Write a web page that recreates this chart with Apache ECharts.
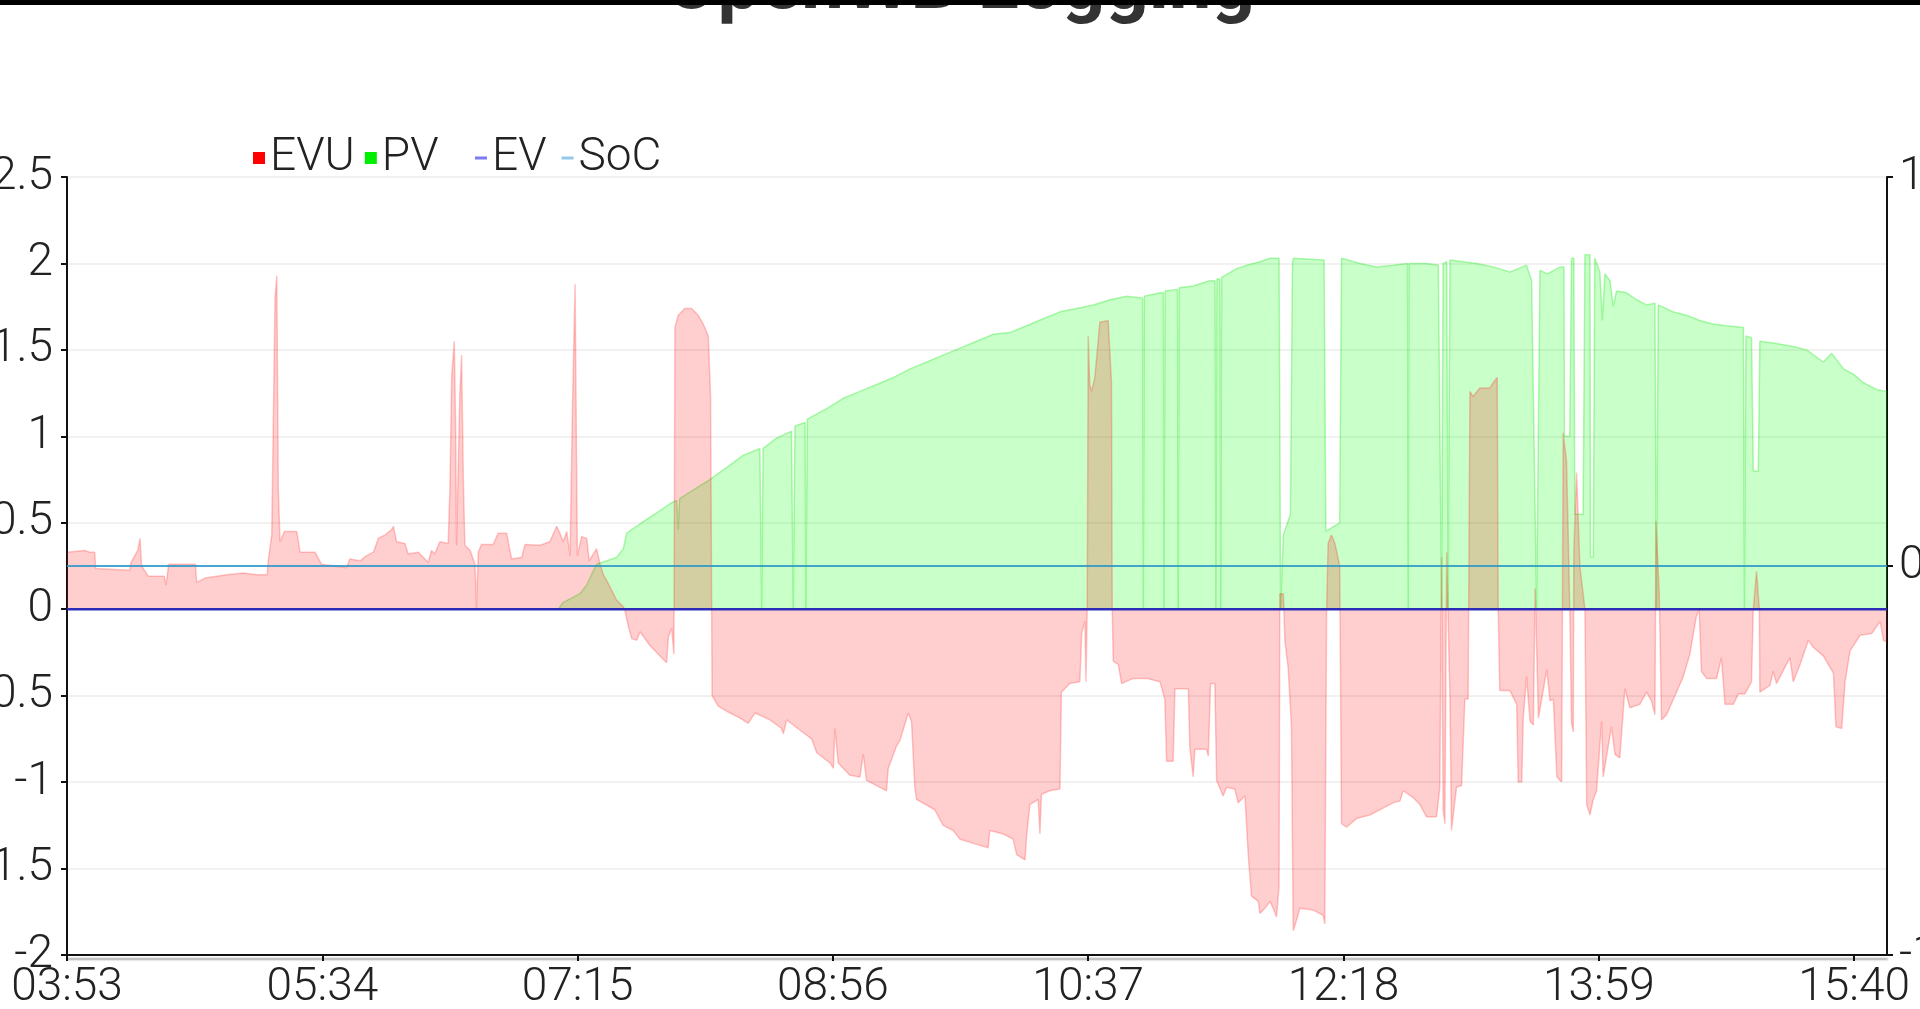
<!DOCTYPE html>
<html><head><meta charset="utf-8">
<script src="https://cdn.jsdelivr.net/npm/echarts/dist/echarts.min.js"></script>
<style>html,body{margin:0;padding:0;background:#fff;overflow:hidden}#c{width:1920px;height:1009px}#bar{position:absolute;left:0;top:0;width:1920px;height:5px;background:#000;z-index:10}</style>
</head><body><div id="c"></div><div id="bar"></div>
<script>
const timeLabels = ['03:53','05:34','07:15','08:56','10:37','12:18','13:59','15:40'];
const tickStep = 101; // minutes between labels
const rangeMinutes = 720;
const seriesNames = ['EVU','PV','EV','SoC'];
// [minutes after 03:53, kW]
const evuData = [[0,0.33],[7,0.34],[9,0.33],[11,0.33],[11.3,0.235],[12,0.226],[24.9,0.226],[25.3,0.27],[28,0.34],[28.9,0.41],[29.5,0.25],[32.2,0.19],[38.5,0.19],[39.2,0.14],[40.2,0.26],[50.8,0.26],[51.3,0.155],[54.6,0.18],[63.2,0.2],[69.8,0.21],[75,0.2],[79.2,0.2],[79.6,0.28],[81,0.43],[82.3,1.8],[83,1.93],[83.6,0.69],[84.3,0.39],[86,0.45],[90.9,0.45],[92.2,0.33],[98.1,0.33],[100.7,0.26],[110.6,0.24],[111.9,0.29],[116,0.28],[118.5,0.31],[121.2,0.33],[123.2,0.41],[125.8,0.43],[128.4,0.46],[129.1,0.48],[130.4,0.39],[133.7,0.38],[135,0.32],[139,0.33],[140.3,0.31],[142.9,0.27],[144.2,0.34],[145.5,0.32],[147.5,0.39],[150.8,0.38],[151.5,0.7],[152.2,1.35],[153.2,1.55],[153.8,1.0],[154.1,0.37],[155.4,1.24],[156.1,1.47],[156.8,0.74],[157.4,0.37],[159.5,0.34],[161.4,0.26],[162,0],[162.7,0.33],[164,0.375],[168.6,0.375],[170.6,0.44],[173.9,0.44],[175.9,0.29],[179.9,0.3],[181.2,0.375],[187.1,0.37],[191,0.39],[193.7,0.48],[195,0.44],[196.3,0.39],[197.7,0.45],[199,0.31],[200,1.19],[201,1.88],[201.9,0.31],[203.6,0.42],[205.6,0.41],[206.6,0.28],[209.5,0.35],[210.9,0.26],[212.2,0.2],[214.1,0.15],[217.4,0.054],[220.1,0.014],[220.7,-0.006],[222.1,-0.1],[223.4,-0.17],[225.4,-0.18],[226.7,-0.13],[230.6,-0.21],[234.6,-0.27],[237.2,-0.31],[237.9,-0.16],[239.2,-0.11],[240.1,-0.26],[240.5,1.63],[241.8,1.7],[244.5,1.74],[247.1,1.74],[249.7,1.7],[251.7,1.65],[253.7,1.58],[254.6,1.23],[255.2,-0.5],[257.6,-0.56],[261,-0.59],[266.3,-0.63],[269.5,-0.66],[272.2,-0.6],[278.1,-0.64],[282.7,-0.69],[283.4,-0.72],[284.7,-0.64],[290,-0.7],[294.6,-0.75],[296.6,-0.83],[301.9,-0.89],[303.2,-0.92],[303.8,-0.69],[305.1,-0.89],[309.7,-0.96],[313.7,-0.97],[315,-0.84],[316.3,-0.99],[321.6,-1.03],[324.2,-1.05],[324.9,-0.92],[328.2,-0.79],[329.5,-0.76],[332.8,-0.6],[334.1,-0.65],[335.4,-1.03],[336.1,-1.1],[343.3,-1.16],[346.6,-1.25],[350.6,-1.28],[353.3,-1.33],[359.8,-1.36],[364.4,-1.38],[365.1,-1.28],[370.4,-1.3],[374.3,-1.33],[375.7,-1.42],[379,-1.45],[379.6,-1.32],[380.9,-1.13],[384.2,-1.1],[384.9,-1.3],[385.5,-1.07],[388.8,-1.05],[392.8,-1.04],[393.4,-0.48],[396.7,-0.43],[400.7,-0.42],[401.4,-0.14],[402.7,-0.07],[403.1,-0.42],[403.6,0],[404,1.58],[404.6,1.3],[405.3,1.26],[406.6,1.34],[408.6,1.66],[411.9,1.67],[413.2,1.31],[413.5,0],[413.9,-0.3],[415.9,-0.32],[417.2,-0.43],[421.8,-0.4],[427.1,-0.4],[432.4,-0.42],[434.3,-0.52],[435,-0.88],[437.6,-0.88],[438.3,-0.46],[443.6,-0.46],[444.2,-0.8],[445.5,-0.97],[446.2,-0.81],[450.8,-0.81],[451.5,-0.85],[452.4,-0.43],[454.1,-0.43],[454.8,-0.99],[457.4,-1.08],[458.7,-1.03],[462,-1.04],[463.3,-1.12],[466,-1.08],[467.3,-1.42],[468.6,-1.66],[471.3,-1.69],[471.9,-1.76],[473.9,-1.73],[475.9,-1.69],[477.2,-1.73],[478.5,-1.78],[479.5,-1.6],[479.8,0.09],[481.2,0.09],[481.8,-0.18],[483.1,-0.34],[484.4,-0.68],[485.1,-1.86],[486.4,-1.8],[487.7,-1.73],[493,-1.74],[496.9,-1.77],[497.6,-1.82],[498.3,0],[498.9,0.38],[500.2,0.43],[501.6,0.38],[503.5,0.25],[504.2,-1.24],[506.2,-1.26],[510.2,-1.21],[515.4,-1.19],[520.7,-1.15],[524.6,-1.12],[527.3,-1.11],[528.6,-1.05],[532.6,-1.09],[535.2,-1.13],[537.8,-1.2],[541.8,-1.2],[543.1,-1.03],[543.8,0.3],[544.4,-1.16],[545.1,-1.24],[545.8,0.33],[547.1,-0.52],[547.7,-1.28],[549.7,-1.03],[551.7,-1.02],[553,-0.52],[554.3,-0.52],[555,1.26],[556.3,1.23],[558.9,1.28],[562.9,1.28],[564.2,1.31],[565.8,1.34],[566.2,0],[566.8,-0.47],[570.8,-0.47],[573.5,-0.55],[574.1,-1.0],[575.5,-1.0],[576.1,-0.63],[577.4,-0.39],[578.8,-0.65],[580.1,-0.67],[580.8,0.12],[582.1,-0.63],[585.4,-0.35],[586.7,-0.53],[588,-0.52],[589.4,-0.97],[591.3,-1.0],[591.9,1.02],[593.2,0.86],[593.9,0.43],[594.5,0],[595.2,-0.66],[595.9,-0.71],[596.1,0.33],[597.2,0.79],[597.8,0.54],[598.5,0.25],[600.5,0],[601.2,-1.13],[602.5,-1.19],[603.8,-1.1],[605.1,-1.05],[607.1,-0.65],[607.7,-0.97],[611,-0.68],[612.4,-0.84],[614.3,-0.86],[616.3,-0.46],[618.3,-0.57],[622.2,-0.55],[624.9,-0.48],[626.8,-0.53],[628.2,-0.61],[628.6,0.51],[629.9,0.1],[630.8,-0.64],[632.8,-0.61],[636.7,-0.48],[639.4,-0.39],[642,-0.26],[644.6,-0.04],[645.7,0],[646.6,-0.36],[648.6,-0.4],[652.6,-0.4],[654.5,-0.28],[655.9,-0.55],[659.2,-0.55],[661.2,-0.49],[663.8,-0.49],[666.4,-0.42],[667.1,0],[668.4,0.22],[669.5,0],[669.7,-0.48],[673.7,-0.44],[675,-0.36],[676.3,-0.43],[681.6,-0.28],[682.9,-0.42],[685.6,-0.32],[688.9,-0.18],[690.8,-0.22],[694.8,-0.27],[698.8,-0.37],[699.8,-0.68],[702.1,-0.69],[703.4,-0.42],[705.4,-0.24],[709.4,-0.15],[714,-0.14],[717.3,-0.07],[718.6,-0.18],[720,-0.19]];
const pvData = [[0,0],[194.3,0],[196.3,0.04],[199,0.06],[202.9,0.09],[205.6,0.14],[207.5,0.2],[209.5,0.26],[213.5,0.28],[217.4,0.3],[220.1,0.35],[221.4,0.44],[225.4,0.48],[229.3,0.52],[234.6,0.57],[238.5,0.61],[241.2,0.63],[241.8,0.46],[242.4,0.64],[247.8,0.69],[254.3,0.75],[261,0.82],[267.5,0.89],[274.1,0.93],[274.8,0],[275.4,0.93],[280.7,0.99],[286.6,1.03],[287.3,0],[288,1.06],[292,1.08],[292.3,0],[292.9,1.1],[300.5,1.16],[307.1,1.22],[313.7,1.26],[320.3,1.3],[326.9,1.34],[333.5,1.39],[340.1,1.43],[346.6,1.47],[353.3,1.51],[359.8,1.55],[366.4,1.59],[373,1.6],[379.6,1.64],[386.2,1.68],[392.8,1.72],[399.4,1.74],[406,1.76],[412.6,1.79],[419.2,1.81],[425.5,1.8],[425.8,0],[426.2,1.81],[432.4,1.83],[433.7,1.83],[434,0],[434.4,1.84],[439.3,1.85],[439.6,0],[440,1.86],[445.5,1.87],[452.1,1.9],[454.2,1.9],[454.5,0],[454.9,1.91],[456.1,1.91],[456.4,0],[456.8,1.92],[462.7,1.97],[466.7,1.99],[471.9,2.01],[475.9,2.03],[479.5,2.03],[480.1,0],[481.2,0.43],[484,0.55],[484.8,2.0],[485.1,2.03],[497.3,2.02],[498,0.45],[503.5,0.5],[504.2,2.03],[511.5,2.0],[518.1,1.98],[524.6,1.99],[530.3,2.0],[530.6,0],[530.9,2.0],[537.8,2.0],[542.5,1.99],[543.8,0],[544.4,2.0],[545.8,2.01],[546.4,0],[547.1,2.02],[557.6,2.0],[564.2,1.98],[570.8,1.95],[577.4,1.99],[579.4,1.9],[581.4,0],[582.7,1.96],[585.7,1.94],[590.7,1.98],[592.2,1.98],[592.4,1.0],[594.5,1.0],[595.2,2.03],[596.1,2.03],[596.5,0.55],[599.8,0.55],[600.5,2.05],[602.5,2.05],[602.7,0.3],[603.8,0.3],[604.4,2.03],[606.4,1.95],[607.4,1.67],[608.4,1.94],[610.4,1.9],[611.7,1.75],[613,1.84],[617,1.83],[620.9,1.79],[624.9,1.76],[628.2,1.77],[628.8,0],[629.5,1.76],[635.4,1.72],[640.7,1.7],[645.9,1.67],[651.2,1.65],[656.5,1.64],[663.2,1.63],[663.6,0],[664.2,1.58],[666.4,1.57],[667.1,0.8],[669.1,0.8],[669.7,1.55],[675,1.54],[682.9,1.52],[688.2,1.5],[694.8,1.43],[698.1,1.48],[702.8,1.39],[706.7,1.36],[710.7,1.31],[716,1.27],[720,1.26]];
const evData = [[0,0],[720,0]];
const socData = [[0,0],[720,0]];

const FONT = 'Roboto';
const labelStyle = {fontFamily: FONT, fontWeight: 300, fontSize: 46, color: '#222'};
const chart = echarts.init(document.getElementById('c'), null, {renderer: 'canvas'});
chart.setOption({
  animation: false,
  backgroundColor: '#fff',
  title: {text: 'OpenWB Logging', left: 'center', top: -54,
    textStyle: {fontFamily: FONT, fontWeight: 'bold', fontSize: 76, color: '#333'}},
  legend: [
    {left: 253, top: 135, padding: 0, itemGap: 10, itemWidth: 12, itemHeight: 12, itemTextGap: 6,
     textStyle: labelStyle, selectedMode: false,
     data: [{name: seriesNames[0], icon: 'rect', itemStyle: {color: '#ff0000'}},
            {name: seriesNames[1], icon: 'rect', itemStyle: {color: '#00ee00'}}]},
    {left: 475, top: 135, padding: 0, itemGap: 15, itemWidth: 12, itemHeight: 12, itemTextGap: 6,
     textStyle: labelStyle, selectedMode: false,
     data: [{name: seriesNames[2], icon: 'path://M0,0H12V3H0Z', itemStyle: {color: '#7b7bf2'}},
            {name: seriesNames[3], icon: 'path://M0,0H12V3H0Z', itemStyle: {color: '#94c8ea'}}]}
  ],
  grid: {left: 67, right: 33, top: 177, bottom: 54, containLabel: false, outerBoundsMode: 'none'},
  xAxis: {type: 'value', min: 0, max: rangeMinutes, interval: tickStep,
    axisLine: {show: true, onZero: false, lineStyle: {color: '#111', width: 2, shadowColor: 'rgba(0,0,0,0.35)', shadowBlur: 2, shadowOffsetY: 4}},
    axisTick: {show: true, length: 6, lineStyle: {color: '#111', width: 2}},
    axisLabel: Object.assign({margin: 10, formatter: v => timeLabels[Math.round(v / tickStep)] || ''}, labelStyle),
    splitLine: {show: false}},
  yAxis: [
    {type: 'value', min: -2, max: 2.5, interval: 0.5,
     axisLine: {show: true, onZero: false, lineStyle: {color: '#111', width: 2}},
     axisTick: {show: true, length: 6, lineStyle: {color: '#111', width: 2}},
     axisLabel: Object.assign({margin: 14}, labelStyle),
     splitLine: {show: true, lineStyle: {color: '#ececec', width: 1.5}}},
    {type: 'value', position: 'right', min: -1, max: 1, interval: 1,
     axisLine: {show: true, onZero: false, lineStyle: {color: '#111', width: 2}},
     axisTick: {show: true, length: 6, lineStyle: {color: '#111', width: 2}},
     axisLabel: Object.assign({margin: 12}, labelStyle),
     splitLine: {show: false}}
  ],
  series: [
    {name: seriesNames[1], type: 'line', data: pvData, yAxisIndex: 0, showSymbol: false, symbol: 'none', z: 2,
     lineStyle: {color: 'rgba(0,230,0,0.3)', width: 1.5}, itemStyle: {color: '#00ee00'},
     areaStyle: {color: 'rgba(0,255,0,0.3)', origin: 0}},
    {name: seriesNames[0], type: 'line', data: evuData, yAxisIndex: 0, showSymbol: false, symbol: 'none', z: 3,
     lineStyle: {color: 'rgba(255,0,0,0.22)', width: 1.5}, itemStyle: {color: '#ff0000'},
     areaStyle: {color: 'rgba(255,0,0,0.27)', origin: 0}},
    {name: seriesNames[2], type: 'line', data: evData, yAxisIndex: 0, showSymbol: false, symbol: 'none', z: 4,
     lineStyle: {color: '#2c2cb8', width: 2.5}, itemStyle: {color: '#7b7bf2'}},
    {name: seriesNames[3], type: 'line', data: socData, yAxisIndex: 1, showSymbol: false, symbol: 'none', z: 5,
     lineStyle: {color: 'rgba(40,150,200,0.85)', width: 2}, itemStyle: {color: '#94c8ea'}}
  ]
});
</script></body></html>
